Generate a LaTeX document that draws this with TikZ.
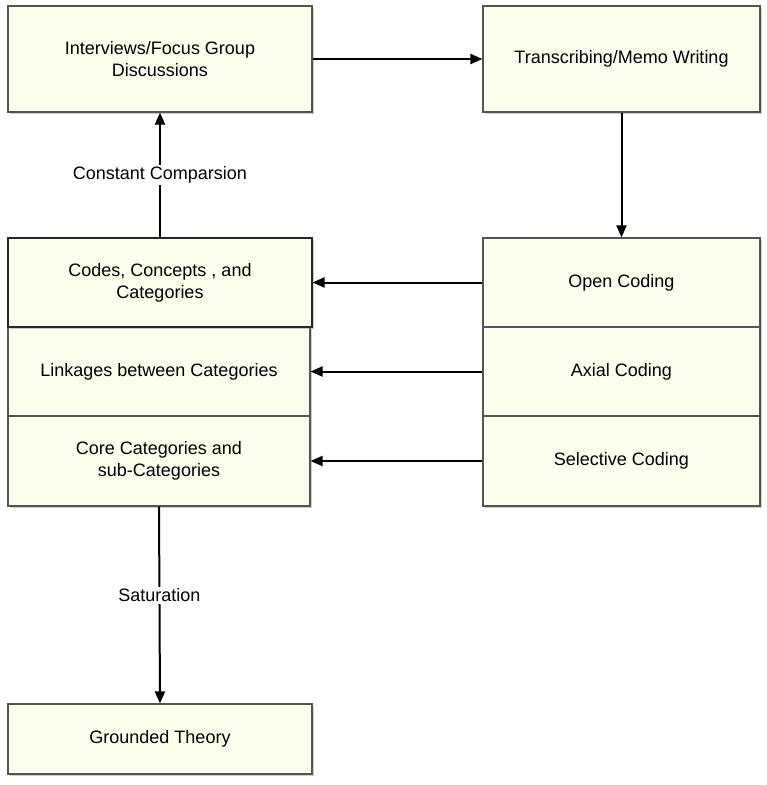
\documentclass[tikz,border=0pt]{standalone}
\usepackage{fontspec}
\setmainfont{Liberation Sans}
\usepackage{xcolor}
\usepackage{tikz}
\usetikzlibrary{arrows.meta}
\usetikzlibrary{shadows}
\definecolor{boxfill}{RGB}{253,253,238}
\definecolor{boxline}{RGB}{85,85,85}
\tikzset{
	stage/.style={draw=boxline,fill=boxfill,line width=1.1pt,align=center,
		inner sep=0pt,font=\fontsize{18}{22}\selectfont,
		drop shadow={shadow xshift=1.8pt,shadow yshift=-1.8pt,opacity=0.4}},
	flow/.style={line width=2pt,-{Triangle[length=12pt,width=10pt]}},
	tag/.style={fill=white,inner sep=2pt,font=\fontsize{18}{22}\selectfont}
}

\begin{document}
\begin{tikzpicture}[x=1pt,y=-1pt]
	\useasboundingbox (0,0) rectangle (767,785);
	% top row
	\node[stage,minimum width=304pt,minimum height=106pt] (inter) at (160,59) {Interviews/Focus Group\\Discussions};
	\node[stage,minimum width=277pt,minimum height=106pt] (trans) at (621.5,59) {Transcribing/Memo Writing};
	% left stack
	\node[stage,minimum width=302pt,minimum height=89pt] (link) at (159,371.5) {Linkages between Categories};
	\node[stage,minimum width=302pt,minimum height=90pt] (core) at (159,461) {Core Categories and\\sub-Categories};
	\node[stage,draw=black!85,minimum width=304pt,minimum height=89pt] (codes) at (160,282.5) {Codes, Concepts , and\\Categories};
	% right stack
	\node[stage,minimum width=277pt,minimum height=89pt] (open) at (621.5,282.5) {Open Coding};
	\node[stage,minimum width=277pt,minimum height=89pt] (axial) at (621.5,371.5) {Axial Coding};
	\node[stage,minimum width=277pt,minimum height=90pt] (select) at (621.5,461) {Selective Coding};
	% bottom
	\node[stage,minimum width=304pt,minimum height=70pt] (ground) at (160,739) {Grounded Theory};
	% arrows
	\draw[flow] (inter.east) -- (trans.west);
	\draw[flow] (trans.south) -- (open.north);
	\draw[flow] (open.west) -- (codes.east);
	\draw[flow] (axial.west) -- (link.east);
	\draw[flow] (select.west) -- (core.east);
	\draw[flow] (codes.north) -- node[tag] {Constant Comparsion} (inter.south);
	\draw[flow] (core.south) -- node[tag,pos=0.45] {Saturation} (ground.north);
\end{tikzpicture}
\end{document}
